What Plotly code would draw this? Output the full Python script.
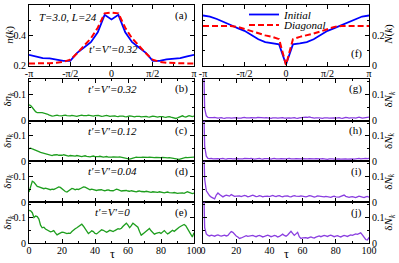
import math
import plotly.graph_objects as go

PI = math.pi
W, H = 399, 263

# ---------------- data ----------------
k_index = list(range(-12, 13))          # L = 24 momentum points
k_vals = [m * PI / 12 for m in k_index]

n_initial = [0.272, 0.262, 0.250, 0.248, 0.242, 0.232, 0.232, 0.285, 0.320, 0.355, 0.420, 0.535, 0.505,
             0.535, 0.420, 0.355, 0.320, 0.285, 0.232, 0.232, 0.242, 0.248, 0.250, 0.262, 0.272]
n_diagonal = [0.215, 0.215, 0.215, 0.217, 0.220, 0.226, 0.240, 0.282, 0.332, 0.380, 0.450, 0.545, 0.550,
              0.545, 0.450, 0.380, 0.332, 0.282, 0.240, 0.226, 0.220, 0.217, 0.215, 0.215, 0.215]
N_initial = [0.331, 0.324, 0.308, 0.286, 0.268, 0.248, 0.230, 0.203, 0.174, 0.156, 0.147, 0.141, 0.008,
             0.141, 0.147, 0.156, 0.174, 0.203, 0.230, 0.248, 0.268, 0.286, 0.308, 0.324, 0.331]
N_diagonal = [0.262, 0.262, 0.262, 0.262, 0.262, 0.256, 0.242, 0.226, 0.212, 0.200, 0.190, 0.175, 0.005,
              0.175, 0.190, 0.200, 0.212, 0.226, 0.242, 0.256, 0.262, 0.262, 0.262, 0.262, 0.262]

dn_032 = [0.060, 0.057, 0.050, 0.041, 0.034, 0.030, 0.029, 0.030, 0.030, 0.029, 0.027,
          0.025, 0.022, 0.019, 0.017, 0.018, 0.020, 0.021, 0.019, 0.017, 0.018,
          0.020, 0.021, 0.019, 0.017, 0.018, 0.020, 0.019, 0.017, 0.016, 0.018,
          0.020, 0.021, 0.019, 0.018, 0.019, 0.021, 0.020, 0.018, 0.017, 0.019,
          0.021, 0.020, 0.018, 0.016, 0.017, 0.019, 0.020, 0.018, 0.016, 0.017,
          0.019, 0.018, 0.016, 0.015, 0.017, 0.018, 0.017, 0.015, 0.014, 0.016,
          0.018, 0.017, 0.015, 0.014, 0.016, 0.017, 0.016, 0.014, 0.015, 0.017,
          0.016, 0.014, 0.013, 0.015, 0.017, 0.016, 0.014, 0.013, 0.015, 0.016,
          0.015, 0.013, 0.012, 0.014, 0.015, 0.013, 0.011, 0.009, 0.008, 0.010,
          0.013, 0.016, 0.018, 0.015, 0.013, 0.016, 0.019, 0.017, 0.015, 0.017]
dn_012 = [0.050, 0.052, 0.049, 0.047, 0.044, 0.041, 0.038, 0.035, 0.033, 0.031, 0.029,
          0.027, 0.025, 0.024, 0.023, 0.025, 0.027, 0.026, 0.024, 0.023, 0.024,
          0.026, 0.024, 0.022, 0.021, 0.023, 0.022, 0.020, 0.021, 0.023, 0.022,
          0.020, 0.019, 0.021, 0.022, 0.020, 0.019, 0.018, 0.020, 0.021, 0.019,
          0.018, 0.019, 0.020, 0.018, 0.017, 0.018, 0.019, 0.017, 0.016, 0.017,
          0.018, 0.017, 0.016, 0.017, 0.018, 0.016, 0.015, 0.014, 0.012, 0.010,
          0.009, 0.011, 0.014, 0.016, 0.017, 0.016, 0.015, 0.016, 0.017, 0.016,
          0.015, 0.016, 0.017, 0.016, 0.014, 0.015, 0.016, 0.015, 0.014, 0.015,
          0.016, 0.015, 0.013, 0.014, 0.015, 0.014, 0.013, 0.012, 0.010, 0.009,
          0.008, 0.010, 0.013, 0.015, 0.016, 0.015, 0.016, 0.017, 0.016, 0.017]
dn_004 = [0.040, 0.065, 0.082, 0.078, 0.068, 0.062, 0.060, 0.057, 0.054, 0.053, 0.055,
          0.052, 0.050, 0.049, 0.051, 0.050, 0.053, 0.057, 0.060, 0.058, 0.052,
          0.046, 0.042, 0.040, 0.044, 0.050, 0.054, 0.052, 0.049, 0.051, 0.050,
          0.053, 0.057, 0.060, 0.059, 0.055, 0.051, 0.049, 0.051, 0.050, 0.048,
          0.046, 0.048, 0.050, 0.049, 0.046, 0.045, 0.047, 0.048, 0.046, 0.044,
          0.045, 0.048, 0.051, 0.049, 0.046, 0.044, 0.045, 0.047, 0.046, 0.044,
          0.043, 0.045, 0.044, 0.042, 0.041, 0.043, 0.044, 0.042, 0.040, 0.041,
          0.043, 0.042, 0.040, 0.039, 0.041, 0.040, 0.038, 0.039, 0.041, 0.040,
          0.038, 0.037, 0.039, 0.040, 0.038, 0.036, 0.037, 0.038, 0.036, 0.035,
          0.036, 0.038, 0.037, 0.035, 0.039, 0.041, 0.039, 0.036, 0.034, 0.036]
dn_0 = [0.128, 0.126, 0.119, 0.100, 0.106, 0.104, 0.094, 0.070, 0.060, 0.062, 0.055,
        0.052, 0.050, 0.044, 0.046, 0.049, 0.040, 0.032, 0.036, 0.040, 0.043,
        0.042, 0.038, 0.037, 0.039, 0.038, 0.045, 0.052, 0.056, 0.060, 0.066,
        0.072, 0.074, 0.066, 0.055, 0.044, 0.037, 0.042, 0.048, 0.045, 0.038,
        0.036, 0.042, 0.048, 0.052, 0.050, 0.045, 0.042, 0.046, 0.050, 0.048,
        0.045, 0.049, 0.054, 0.056, 0.055, 0.058, 0.066, 0.074, 0.078, 0.070,
        0.060, 0.068, 0.078, 0.073, 0.066, 0.062, 0.045, 0.031, 0.036, 0.042,
        0.048, 0.054, 0.057, 0.048, 0.040, 0.035, 0.038, 0.040, 0.042, 0.038,
        0.043, 0.049, 0.042, 0.036, 0.040, 0.046, 0.050, 0.046, 0.052, 0.060,
        0.062, 0.066, 0.070, 0.073, 0.068, 0.055, 0.048, 0.035, 0.024, 0.040]

dN_032 = [0.350, 0.045, 0.018, 0.012, 0.011, 0.010, 0.011, 0.012, 0.010, 0.009, 0.010,
          0.011, 0.009, 0.008, 0.010, 0.011, 0.010, 0.009, 0.010, 0.012, 0.011,
          0.009, 0.008, 0.009, 0.011, 0.012, 0.010, 0.009, 0.010, 0.011, 0.010,
          0.009, 0.010, 0.012, 0.011, 0.010, 0.009, 0.010, 0.011, 0.010, 0.009,
          0.008, 0.010, 0.011, 0.010, 0.009, 0.010, 0.012, 0.011, 0.009, 0.010,
          0.011, 0.010, 0.009, 0.010, 0.011, 0.009, 0.008, 0.010, 0.011, 0.010,
          0.011, 0.013, 0.012, 0.014, 0.012, 0.010, 0.009, 0.010, 0.011, 0.010,
          0.009, 0.008, 0.010, 0.011, 0.010, 0.009, 0.010, 0.011, 0.010, 0.009,
          0.010, 0.011, 0.009, 0.008, 0.010, 0.012, 0.011, 0.009, 0.010, 0.011,
          0.010, 0.009, 0.011, 0.013, 0.011, 0.009, 0.010, 0.011, 0.012, 0.013]
dN_012 = [0.350, 0.060, 0.020, 0.012, 0.011, 0.012, 0.010, 0.011, 0.012, 0.011, 0.010,
          0.011, 0.012, 0.010, 0.009, 0.011, 0.012, 0.011, 0.010, 0.011, 0.012,
          0.011, 0.010, 0.009, 0.010, 0.012, 0.011, 0.010, 0.011, 0.012, 0.010,
          0.009, 0.010, 0.011, 0.012, 0.010, 0.009, 0.011, 0.012, 0.011, 0.010,
          0.009, 0.011, 0.012, 0.010, 0.009, 0.010, 0.011, 0.010, 0.009, 0.010,
          0.011, 0.012, 0.010, 0.009, 0.010, 0.011, 0.010, 0.009, 0.010, 0.011,
          0.010, 0.009, 0.010, 0.011, 0.010, 0.009, 0.010, 0.011, 0.010, 0.009,
          0.010, 0.011, 0.010, 0.009, 0.008, 0.010, 0.011, 0.010, 0.009, 0.010,
          0.011, 0.010, 0.009, 0.010, 0.011, 0.010, 0.009, 0.010, 0.011, 0.010,
          0.009, 0.010, 0.011, 0.012, 0.010, 0.011, 0.013, 0.012, 0.011, 0.012]
dN_004 = [0.350, 0.090, 0.045, 0.032, 0.025, 0.020, 0.015, 0.013, 0.028, 0.036, 0.030,
          0.024, 0.021, 0.025, 0.028, 0.026, 0.024, 0.030, 0.027, 0.023, 0.024,
          0.026, 0.025, 0.022, 0.024, 0.027, 0.025, 0.021, 0.023, 0.026, 0.028,
          0.025, 0.022, 0.023, 0.026, 0.024, 0.021, 0.023, 0.025, 0.024, 0.022,
          0.025, 0.027, 0.024, 0.022, 0.025, 0.026, 0.023, 0.021, 0.024, 0.026,
          0.025, 0.022, 0.021, 0.024, 0.026, 0.024, 0.022, 0.023, 0.025, 0.024,
          0.022, 0.021, 0.023, 0.026, 0.025, 0.022, 0.020, 0.022, 0.025, 0.024,
          0.022, 0.020, 0.021, 0.023, 0.022, 0.020, 0.019, 0.022, 0.024, 0.021,
          0.019, 0.020, 0.023, 0.025, 0.028, 0.023, 0.020, 0.019, 0.021, 0.022,
          0.020, 0.018, 0.021, 0.024, 0.022, 0.019, 0.018, 0.021, 0.023, 0.020]
dN_0 = [0.350, 0.060, 0.036, 0.030, 0.028, 0.031, 0.029, 0.027, 0.030, 0.032, 0.029,
        0.027, 0.029, 0.031, 0.028, 0.030, 0.038, 0.045, 0.042, 0.033, 0.028,
        0.024, 0.018, 0.020, 0.024, 0.027, 0.029, 0.026, 0.028, 0.031, 0.030,
        0.027, 0.025, 0.028, 0.030, 0.027, 0.024, 0.026, 0.029, 0.031, 0.028,
        0.025, 0.027, 0.030, 0.028, 0.024, 0.026, 0.031, 0.035, 0.030, 0.027,
        0.032, 0.040, 0.046, 0.038, 0.030, 0.036, 0.042, 0.025, 0.018, 0.020,
        0.022, 0.021, 0.019, 0.022, 0.024, 0.021, 0.020, 0.023, 0.026, 0.028,
        0.025, 0.027, 0.030, 0.028, 0.026, 0.029, 0.031, 0.028, 0.025, 0.027,
        0.029, 0.026, 0.024, 0.027, 0.030, 0.028, 0.026, 0.029, 0.032, 0.030,
        0.033, 0.036, 0.034, 0.038, 0.040, 0.032, 0.024, 0.014, 0.012, 0.022]

k_ticktext = ["-π", "-π/2", "0", "π/2", "π"]
tau_ticks = [0, 20, 40, 60, 80, 100]
left_labels = ["t'=V'=0.32", "t'=V'=0.12", "t'=V'=0.04", "t'=V'=0"]
left_letters = ["(b)", "(c)", "(d)", "(e)"]
right_letters = ["(g)", "(h)", "(i)", "(j)"]

# ---------------- style ----------------
FONT = "Liberation Serif"
BLUE, RED = "#0000ff", "#ff0000"
GREEN, PURPLE = "#1e9e1e", "#8a3ee0"


def px_x(x):
    return x / W


def px_y(y):
    return 1 - y / H


LX = (29, 194)
RX = (203, 369)
TOP = (4, 65)
ROWS = [(78, 120), (120, 161), (161, 202), (202, 243)]

fig = go.Figure()

base_axis = dict(showline=True, linecolor="black", linewidth=1, mirror="ticks",
                 ticks="inside", ticklen=4, tickcolor="black", tickwidth=1,
                 showgrid=False, zeroline=False, automargin=False,
                 tickfont=dict(family=FONT, size=10, color="black"))

leg_common = dict(xanchor="left", yanchor="middle", bgcolor="rgba(0,0,0,0)",
                  font=dict(family=FONT, size=11, color="black"), itemwidth=30, borderwidth=0)
layout = dict(template="none", width=W, height=H, margin=dict(l=0, r=0, t=0, b=0, pad=0),
              paper_bgcolor="white", plot_bgcolor="white",
              font=dict(family=FONT, size=10, color="black"),
              showlegend=True,
              legend=dict(leg_common, x=px_x(244), y=px_y(14)),
              legend2=dict(leg_common, x=px_x(244), y=px_y(25)))

# panel (a)
layout["xaxis"] = dict(base_axis, domain=[px_x(LX[0]), px_x(LX[1])], range=[-PI, PI],
                       tickvals=[-PI, -PI / 2, 0, PI / 2, PI], ticktext=k_ticktext, anchor="y",
                       ticklabelstandoff=-2,
                       minor=dict(ticks="inside", ticklen=2, tickcolor="black",
                                  tickvals=[-3 * PI / 4, -PI / 4, PI / 4, 3 * PI / 4]))
layout["yaxis"] = dict(base_axis, domain=[px_y(TOP[1]), px_y(TOP[0])], range=[0.2, 0.6],
                       tickvals=[0.2, 0.4, 0.6], ticktext=["0.2", "0.4", "0.6"], anchor="x",
                       minor=dict(ticks="inside", ticklen=2, tickcolor="black", tickvals=[0.3, 0.5]))
# panel (f)
layout["xaxis2"] = dict(base_axis, domain=[px_x(RX[0]), px_x(RX[1])], range=[-PI, PI],
                        tickvals=[-PI, -PI / 2, 0, PI / 2, PI], ticktext=k_ticktext, anchor="y2",
                        ticklabelstandoff=-2,
                        minor=dict(ticks="inside", ticklen=2, tickcolor="black",
                                   tickvals=[-3 * PI / 4, -PI / 4, PI / 4, 3 * PI / 4]))
layout["yaxis2"] = dict(base_axis, domain=[px_y(TOP[1]), px_y(TOP[0])], range=[0, 0.4],
                        tickvals=[0, 0.2, 0.4], ticktext=["0", "0.2", "0.4"], anchor="x2", side="right",
                        minor=dict(ticks="inside", ticklen=2, tickcolor="black", tickvals=[0.1, 0.3]))

fig.add_trace(go.Scatter(x=k_vals, y=n_initial, mode="lines", line=dict(color=BLUE, width=1.8),
                         xaxis="x", yaxis="y", showlegend=False))
fig.add_trace(go.Scatter(x=k_vals, y=n_diagonal, mode="lines", line=dict(color=RED, width=2, dash="6px,3px"),
                         xaxis="x", yaxis="y", showlegend=False))
fig.add_trace(go.Scatter(x=k_vals, y=N_initial, mode="lines", line=dict(color=BLUE, width=1.8),
                         xaxis="x2", yaxis="y2", name="<i>Initial</i>", legend="legend"))
fig.add_trace(go.Scatter(x=k_vals, y=N_diagonal, mode="lines", line=dict(color=RED, width=2, dash="6px,3px"),
                         xaxis="x2", yaxis="y2", name="<i>Diagonal</i>", legend="legend2"))

left_series = [dn_032, dn_012, dn_004, dn_0]
right_series = [dN_032, dN_012, dN_004, dN_0]


def note(text, x, y, size=11, xanchor="center", angle=0):
    return dict(text=text, x=px_x(x), y=px_y(y), xref="paper", yref="paper", showarrow=False,
                xanchor=xanchor, yanchor="middle", textangle=angle,
                font=dict(family=FONT, size=size, color="black"))


annotations = []
for i in range(4):
    top, bot = ROWS[i]
    ax_l = 3 + i
    ax_r = 7 + i
    last = (i == 3)
    for ax_n, xr, series, color, side in [(ax_l, LX, left_series[i], GREEN, "left"),
                                          (ax_r, RX, right_series[i], PURPLE, "right")]:
        layout[f"xaxis{ax_n}"] = dict(base_axis, domain=[px_x(xr[0]), px_x(xr[1])], range=[0, 100],
                                      tickvals=tau_ticks, ticktext=[str(t) for t in tau_ticks],
                                      showticklabels=last, anchor=f"y{ax_n}", ticklabelstandoff=-2,
                                      minor=dict(ticks="inside", ticklen=2, tickcolor="black",
                                                 tickvals=[10, 30, 50, 70, 90]))
        layout[f"yaxis{ax_n}"] = dict(base_axis, domain=[px_y(bot), px_y(top)], range=[0, 0.16],
                                      tickvals=[0, 0.1], ticktext=["0", "0.1"], anchor=f"x{ax_n}",
                                      side=side,
                                      minor=dict(ticks="inside", ticklen=2, tickcolor="black",
                                                 tickvals=[0.05, 0.15]))
        fig.add_trace(go.Scatter(x=list(range(len(series))), y=series, mode="lines",
                                 line=dict(color=color, width=1.3),
                                 xaxis=f"x{ax_n}", yaxis=f"y{ax_n}", showlegend=False))
    annotations.append(note(f"<i>{left_labels[i]}</i>", 112, top + 10))
    annotations.append(note(left_letters[i], 190, top + 10, xanchor="right"))
    annotations.append(note(right_letters[i], 364, top + 10, xanchor="right"))
    mid = (top + bot) / 2
    annotations.append(note("δ<i>n</i><sub><i>k</i></sub>", 8, mid, angle=-90))
    annotations.append(note("δ<i>N</i><sub><i>k</i></sub>", 389, mid, angle=-90))

annotations += [
    note("<i>T=3.0, L=24</i>", 37, 16, xanchor="left"),
    note("<i>t'=V'=0.32</i>", 113, 48),
    note("(a)", 190, 15, xanchor="right"),
    note("(f)", 364, 53, xanchor="right"),
    note("<i>n</i>(<i>k</i>)", 10, 34, angle=-90),
    note("<i>N</i>(<i>k</i>)", 389, 34, angle=-90),
    note("τ", 112, 254, size=12),
    note("τ", 286, 254, size=12),
]

layout["annotations"] = annotations
fig.update_layout(**layout)
fig.write_html("out.html", config={"displayModeBar": False},
               post_script="document.body.style.margin='0px';")
